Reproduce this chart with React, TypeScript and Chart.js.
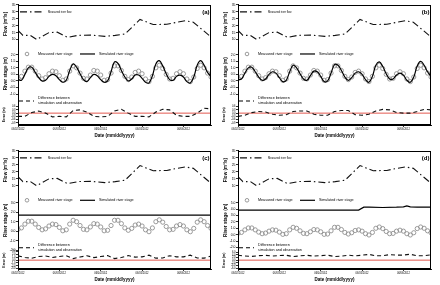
import React, { useEffect, useRef } from 'react';
import { Chart, registerables } from 'chart.js';

Chart.register(...registerables);

const FONT = '"Liberation Sans", Arial, Helvetica, sans-serif';

const DATE_LABELS = ['06/02/2012', '06/03/2012', '06/04/2012', '06/05/2012', '06/06/2012'];

// Measured river flow (m3/s), x in days from start
const FLOW_DAYS = [0, 0.12, 0.3, 0.45, 0.75, 0.95, 1.2, 1.45, 1.75, 2.1, 2.35, 2.59, 2.95, 3.27, 3.6, 3.76, 4.04, 4.24, 4.62];
const FLOW = [16.5, 13.0, 13.0, 10.0, 15.0, 15.3, 11.5, 13.0, 13.2, 12.3, 13.0, 14.0, 24.5, 20.8, 21.0, 22.0, 23.5, 22.5, 13.0];

// River stage (m), hours from start
const STAGE_HOURS = [0, 2, 4, 6, 8, 10, 12, 14, 16, 18, 20, 22, 24, 26, 28, 30, 32, 34, 36, 38, 40, 42, 44, 46, 48, 50, 52, 54, 56, 58, 60, 62, 64, 66, 68, 70, 72, 74, 76, 78, 80, 82, 84, 86, 88, 90, 92, 94, 96, 98, 100, 102, 104, 106, 108, 110, 112];
const MEASURED_STAGE = [0.2, 0.35, 0.75, 1.05, 1.05, 0.75, 0.4, 0.15, 0.25, 0.55, 0.75, 0.7, 0.4, 0.05, 0.15, 0.75, 1.15, 1.0, 0.6, 0.2, 0.15, 0.45, 0.8, 0.75, 0.45, 0.05, 0.1, 0.6, 1.15, 1.15, 0.8, 0.35, 0.1, 0.3, 0.65, 0.75, 0.55, 0.15, -0.05, 0.35, 1.0, 1.2, 0.95, 0.5, 0.15, 0.2, 0.55, 0.7, 0.55, 0.15, -0.05, 0.3, 0.95, 1.2, 1.0, 0.6, 0.3];
const SIM_A = [0.12, 0.05, 0.5, 1.0, 1.05, 0.65, 0.25, 0.0, 0.05, 0.35, 0.5, 0.4, 0.1, -0.1, 0.05, 0.8, 1.3, 1.05, 0.55, 0.1, -0.05, 0.25, 0.5, 0.4, 0.1, -0.1, 0.0, 0.7, 1.45, 1.35, 0.8, 0.3, 0.0, 0.15, 0.45, 0.45, 0.2, -0.1, -0.15, 0.4, 1.3, 1.55, 1.15, 0.55, 0.1, 0.05, 0.35, 0.45, 0.3, -0.05, -0.15, 0.3, 1.2, 1.55, 1.2, 0.65, 0.35];
const SIM_B = [0.1, 0.15, 0.6, 1.0, 1.05, 0.7, 0.3, 0.05, 0.15, 0.5, 0.7, 0.6, 0.25, -0.05, 0.05, 0.7, 1.2, 1.0, 0.55, 0.15, 0.05, 0.4, 0.75, 0.7, 0.35, -0.05, 0.0, 0.6, 1.25, 1.2, 0.8, 0.3, 0.05, 0.25, 0.6, 0.7, 0.5, 0.1, -0.1, 0.35, 1.2, 1.45, 1.1, 0.55, 0.15, 0.15, 0.45, 0.6, 0.45, 0.05, -0.1, 0.3, 1.15, 1.5, 1.2, 0.7, 0.35];
const SIM_C_HOURS = [0, 112];
const SIM_C = [1.7, 1.7];
const SIM_D_HOURS = [0, 70, 73, 76, 84, 92, 96, 98, 100, 104, 112];
const SIM_D = [3.85, 3.85, 4.3, 4.3, 4.25, 4.3, 4.35, 4.5, 4.35, 4.3, 4.3];

// Difference between simulation and observation (m)
const ERR_HOURS = [0, 4, 8, 12, 16, 20, 24, 28, 32, 36, 40, 44, 48, 52, 56, 60, 64, 68, 72, 76, 80, 84, 88, 92, 96, 100, 104, 108, 112];
const ERR_A = [-0.3, -0.3, 0.05, 0.2, 0.0, -0.35, -0.3, -0.35, 0.25, 0.3, 0.1, -0.3, -0.35, -0.3, 0.2, 0.35, 0.0, -0.3, -0.3, -0.35, 0.1, 0.35, 0.3, -0.2, -0.3, -0.3, 0.0, 0.45, 0.4];
const ERR_B = [-0.3, -0.2, 0.05, 0.15, 0.1, -0.1, -0.2, -0.15, 0.15, 0.2, 0.2, -0.1, -0.2, -0.2, 0.15, 0.25, 0.25, -0.15, -0.2, -0.1, 0.2, 0.35, 0.3, 0.05, 0.0, 0.0, 0.15, 0.35, 0.3];
const ERR_C = [1.5, 0.95, 0.65, 1.3, 1.45, 0.95, 1.3, 1.55, 0.55, 1.1, 1.55, 0.9, 1.25, 1.6, 0.55, 0.9, 1.6, 1.05, 1.15, 1.75, 0.7, 0.75, 1.55, 1.15, 1.15, 1.75, 0.75, 0.7, 1.4];
const ERR_D = [3.65, 3.1, 2.8, 3.45, 3.6, 3.1, 3.45, 3.7, 2.7, 3.25, 3.7, 3.05, 3.4, 3.75, 2.7, 3.05, 3.75, 3.2, 3.75, 4.35, 3.3, 3.35, 4.15, 3.75, 3.85, 4.45, 3.35, 3.3, 4.0];
const ZERO_HOURS = [0, 112];
const ZERO_LINE = [0, 0];

const PANEL_LABELS = ['(a)', '(b)', '(c)', '(d)'];
const SIM_SERIES = [SIM_A, SIM_B, SIM_C, SIM_D];
const SIM_X = [STAGE_HOURS, STAGE_HOURS, SIM_C_HOURS, SIM_D_HOURS];
const ERR_SERIES = [ERR_A, ERR_B, ERR_C, ERR_D];

const X_MAX = 112 / 24;

// axis layout per panel: stage [min,max,step,lo,hi], err [min,max,step]
const AXES = [
  { stage: [-1.8, 2.9, 0.5, -1, 2], err: [-1.1, 0.8, 0.3], weights: [39, 63, 21], smooth: true },
  { stage: [-1.8, 2.9, 0.5, -1, 2], err: [-1.1, 0.8, 0.3], weights: [39, 63, 21], smooth: true },
  { stage: [-2.1, 4.4, 1, -2, 3], err: [-3.1, 3.1, 1], weights: [39, 63, 18], smooth: false },
  { stage: [-2.6, 7.1, 1, -2, 5], err: [-6.7, 6.7, 2], weights: [39, 63, 18], smooth: false },
];
const BOXES = [
  { left: 0, top: 0, h: 141, padTop: 2 },
  { left: 220, top: 0, h: 141, padTop: 2 },
  { left: 0, top: 146, h: 139, padTop: 3 },
  { left: 220, top: 146, h: 139, padTop: 3 },
];

const FLOW_DASH = [7, 3, 1.5, 3];
const ERR_DASH = [4, 3];
const STAGE_GRAY = '#909090';

const pts = (xs: number[], ys: number[], div: number) => xs.map((x, i) => ({ x: x / div, y: ys[i] }));

function yScale(min: number, max: number, step: number, lo: number, hi: number, weight: number,
  title: string, titleSize: number, titlePad: number, tickSize: number, digits: number) {
  return {
    type: 'linear',
    position: 'left',
    stack: 'panel',
    stackWeight: weight,
    min,
    max,
    afterFit: (s: any) => { s.width = 18; },
    afterBuildTicks: (s: any) => {
      s.ticks = s.ticks.filter((t: any) => t.value >= lo - 1e-9 && t.value <= hi + 1e-9);
    },
    border: { display: true, color: '#000', width: 1 },
    grid: { drawOnChartArea: false, drawTicks: true, tickLength: 2, color: '#000', lineWidth: 0.8 },
    ticks: {
      stepSize: step,
      includeBounds: false,
      autoSkip: false,
      padding: 0.5,
      color: '#000',
      font: { family: FONT, size: tickSize },
      callback: (v: any) => Number(v).toFixed(digits),
    },
    title: {
      display: true,
      text: title,
      color: '#000',
      font: { family: FONT, size: titleSize, weight: 'bold' },
      padding: { top: titlePad, bottom: 0 },
    },
  };
}

function Panel({ idx }: { idx: number }) {
  const ref = useRef<HTMLCanvasElement>(null);
  const box = BOXES[idx];
  useEffect(() => {
    const canvas = ref.current;
    if (!canvas) return;
    const ax = AXES[idx];
    const label = PANEL_LABELS[idx];
    const decor = {
      id: 'decor' + idx,
      afterDraw(chart: any) {
        const ctx = chart.ctx;
        const ca = chart.chartArea;
        const sF = chart.scales.yFlow;
        const sS = chart.scales.yStage;
        const L = ca.left;
        ctx.save();
        // frame
        ctx.strokeStyle = '#000';
        ctx.lineWidth = 1;
        ctx.setLineDash([]);
        ctx.strokeRect(Math.round(ca.left) + 0.5, Math.round(ca.top) + 0.5,
          Math.round(ca.right) - Math.round(ca.left) - 1, Math.round(ca.bottom) - Math.round(ca.top) - 1);
        ctx.fillStyle = '#000';
        ctx.textBaseline = 'middle';
        // panel label
        ctx.textAlign = 'right';
        ctx.font = `bold 6px ${FONT}`;
        ctx.fillText(label, ca.right - 1.5, sF.top + 7);
        ctx.textAlign = 'left';
        // flow legend
        let y = sF.top + 7;
        ctx.strokeStyle = '#111';
        ctx.lineWidth = 1.1;
        ctx.setLineDash(FLOW_DASH);
        ctx.beginPath();
        ctx.moveTo(L + 2, y);
        ctx.lineTo(L + 25, y);
        ctx.stroke();
        ctx.font = `2.7px ${FONT}`;
        ctx.fillText('Measured river flow', L + 30, y);
        // stage legend
        y = sS.top + 11;
        ctx.setLineDash([]);
        ctx.strokeStyle = STAGE_GRAY;
        ctx.lineWidth = 0.9;
        ctx.beginPath();
        ctx.arc(L + 9, y, 1.8, 0, Math.PI * 2);
        ctx.stroke();
        ctx.font = `3.7px ${FONT}`;
        ctx.fillText('Measured river stage', L + 20, y);
        ctx.strokeStyle = '#000';
        ctx.lineWidth = 1.2;
        ctx.beginPath();
        ctx.moveTo(L + 62, y);
        ctx.lineTo(L + 77, y);
        ctx.stroke();
        ctx.fillText('Simulated river stage', L + 81, y);
        // difference legend
        const yb = sS.bottom;
        ctx.setLineDash(ERR_DASH);
        ctx.lineWidth = 1.1;
        ctx.beginPath();
        ctx.moveTo(L + 1, yb - 3.5);
        ctx.lineTo(L + 16, yb - 3.5);
        ctx.stroke();
        ctx.font = `3.7px ${FONT}`;
        ctx.fillText('Difference between', L + 20, yb - 6.5);
        ctx.fillText('simulation and observation', L + 20, yb - 1.5);
        ctx.restore();
      },
    };

    const chart = new Chart(canvas, {
      type: 'line',
      data: {
        datasets: [
          {
            label: 'Simulated river stage',
            data: pts(SIM_X[idx], SIM_SERIES[idx], 24),
            yAxisID: 'yStage',
            borderColor: '#000',
            borderWidth: 1.2,
            pointRadius: 0,
            tension: ax.smooth ? 0.4 : 0,
            fill: false,
          },
          {
            label: 'Measured river stage',
            data: pts(STAGE_HOURS, MEASURED_STAGE, 24),
            yAxisID: 'yStage',
            showLine: false,
            pointRadius: 2.1,
            pointStyle: 'circle',
            pointBorderColor: STAGE_GRAY,
            pointBackgroundColor: 'rgba(0,0,0,0)',
            pointBorderWidth: 0.9,
            borderColor: STAGE_GRAY,
          },
          {
            label: 'Difference between simulation and observation',
            data: pts(ERR_HOURS, ERR_SERIES[idx], 24),
            yAxisID: 'yErr',
            borderColor: '#111',
            borderWidth: 1.1,
            borderDash: ERR_DASH,
            pointRadius: 0,
            fill: false,
          },
          {
            label: 'zero',
            data: pts(ZERO_HOURS, ZERO_LINE, 24),
            yAxisID: 'yErr',
            borderColor: '#e0463c',
            borderWidth: 0.9,
            pointRadius: 0,
            fill: false,
          },
          {
            label: 'Measured river flow',
            data: pts(FLOW_DAYS, FLOW, 1),
            yAxisID: 'yFlow',
            borderColor: '#111',
            borderWidth: 1.1,
            borderDash: FLOW_DASH,
            pointRadius: 0,
            fill: false,
          },
        ],
      },
      options: {
        responsive: false,
        maintainAspectRatio: false,
        animation: false,
        devicePixelRatio: 1,
        layout: { padding: { top: box.padTop, right: 9, left: 0, bottom: 0 } },
        plugins: { legend: { display: false }, tooltip: { enabled: false } },
        scales: {
          x: {
            type: 'linear',
            min: 0,
            max: X_MAX,
            afterFit: (s: any) => { s.height = 16; },
            border: { display: true, color: '#000', width: 1 },
            grid: { drawOnChartArea: false, drawTicks: true, tickLength: 2, color: '#000', lineWidth: 0.8 },
            ticks: {
              stepSize: 1,
              includeBounds: false,
              autoSkip: false,
              maxRotation: 0,
              padding: 1,
              color: '#000',
              font: { family: FONT, size: 2.6 },
              callback: (v: any) => DATE_LABELS[Math.round(Number(v))] ?? '',
            },
            title: {
              display: true,
              text: 'Date (mm/dd/yyyy)',
              color: '#000',
              font: { family: FONT, size: 4.5, weight: 'bold' },
              padding: { top: 0, bottom: 2.3 },
            },
          },
          yErr: yScale(ax.err[0], ax.err[1], ax.err[2], ax.err[0], ax.err[1], ax.weights[2], 'Error (m)', 3.5, 1.5, 2.6, 1),
          yStage: yScale(ax.stage[0], ax.stage[1], ax.stage[2], ax.stage[3], ax.stage[4], ax.weights[1], 'River stage (m)', 4.6, 3.2, 3.4, 1),
          yFlow: yScale(7.5, 35, 5, 10, 35, ax.weights[0], 'Flow (m\u00B3/s)', 4.6, 3.2, 3.4, 0),
        } as any,
      },
      plugins: [decor],
    } as any);
    return () => chart.destroy();
  }, [idx]);
  return (
    <canvas
      ref={ref}
      width={220}
      height={box.h}
      style={{ position: 'absolute', left: box.left, top: box.top, width: 220, height: box.h }}
    />
  );
}

export default function App() {
  useEffect(() => {
    document.body.style.margin = '0';
  }, []);
  return (
    <div style={{ position: 'fixed', left: 0, top: 0, width: 440, height: 285, background: '#fff', overflow: 'hidden' }}>
      {[0, 1, 2, 3].map((i) => (
        <Panel key={i} idx={i} />
      ))}
    </div>
  );
}
